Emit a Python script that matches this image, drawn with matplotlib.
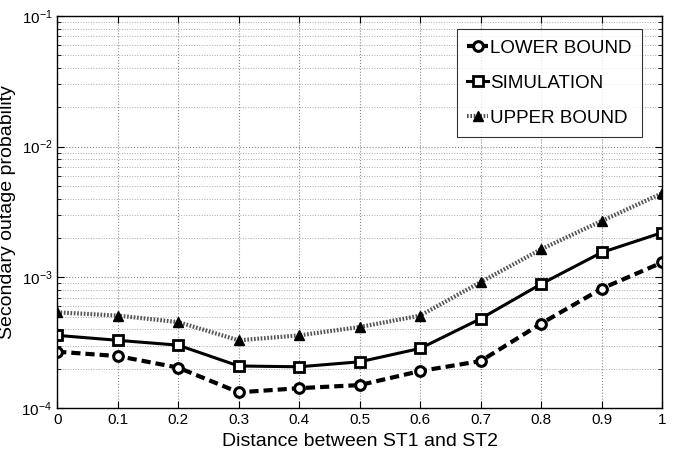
import matplotlib
matplotlib.use("Agg")
import matplotlib.pyplot as plt
from matplotlib.ticker import LogLocator, FixedLocator, NullFormatter

x = [0, 0.1, 0.2, 0.3, 0.4, 0.5, 0.6, 0.7, 0.8, 0.9, 1.0]
lower = [2.7e-4, 2.5e-4, 2.04e-4, 1.32e-4, 1.42e-4, 1.5e-4, 1.92e-4, 2.29e-4, 4.43e-4, 8.2e-4, 1.3e-3]
simulation = [3.6e-4, 3.3e-4, 3.03e-4, 2.1e-4, 2.07e-4, 2.26e-4, 2.86e-4, 4.83e-4, 8.9e-4, 1.55e-3, 2.2e-3]
upper = [5.4e-4, 5.1e-4, 4.55e-4, 3.3e-4, 3.6e-4, 4.17e-4, 5.1e-4, 9.2e-4, 1.64e-3, 2.7e-3, 4.4e-3]
xticks = [0, 0.1, 0.2, 0.3, 0.4, 0.5, 0.6, 0.7, 0.8, 0.9, 1]
xticklabels = ["0", "0.1", "0.2", "0.3", "0.4", "0.5", "0.6", "0.7", "0.8", "0.9", "1"]
labels = ["LOWER BOUND", "SIMULATION", "UPPER BOUND"]

plt.rcParams['font.family'] = ['Liberation Sans', 'DejaVu Sans']

fig = plt.figure(figsize=(6.89, 4.68), dpi=100)
ax = fig.add_axes([0.083, 0.128, 0.878, 0.838])

ax.plot(x, lower, color='black', lw=3, ls=(0, (2.2, 1.2)), marker='o', ms=7,
        mfc='white', mec='black', mew=2.2, label=labels[0])
ax.plot(x, simulation, color='black', lw=2.2, ls='-', marker='s', ms=6.5,
        mfc='white', mec='black', mew=2, label=labels[1])
ax.plot(x, upper, color='#555555', lw=3, ls=(0, (0.4, 0.4)), marker='^', ms=7.5,
        mfc='black', mec='black', label=labels[2])

ax.set_yscale('log')
ax.set_ylim(1e-4, 1e-1)
ax.set_xlim(0, 1)
ax.set_xticks(xticks)
ax.set_xticklabels(xticklabels)
ax.yaxis.set_major_locator(FixedLocator([1e-4, 1e-3, 1e-2, 1e-1]))
ax.yaxis.set_minor_locator(LogLocator(base=10, subs=range(2, 10)))
ax.yaxis.set_minor_formatter(NullFormatter())

ax.grid(True, which='major', axis='both', ls=':', color='#888888', lw=0.8)
ax.grid(True, which='minor', axis='y', ls=':', color='#aaaaaa', lw=0.7)
ax.tick_params(which='both', direction='in', top=True, right=True, labelsize=11)
ax.tick_params(which='major', length=5)
ax.tick_params(which='minor', length=3)
for s in ax.spines.values():
    s.set_linewidth(1.0)

ax.set_xlabel("Distance between ST1 and ST2", fontsize=14, labelpad=4)
ax.set_ylabel("Secondary outage probability", fontsize=14, labelpad=4)

leg = ax.legend(loc='upper right', bbox_to_anchor=(0.966, 0.966), fontsize=13.5,
                frameon=True, fancybox=False, edgecolor='black',
                handlelength=1.1, handletextpad=0.1, borderpad=0.55, labelspacing=0.95,
                borderaxespad=0)
leg.get_frame().set_linewidth(0.8)

fig.savefig("out.png", dpi=100)
